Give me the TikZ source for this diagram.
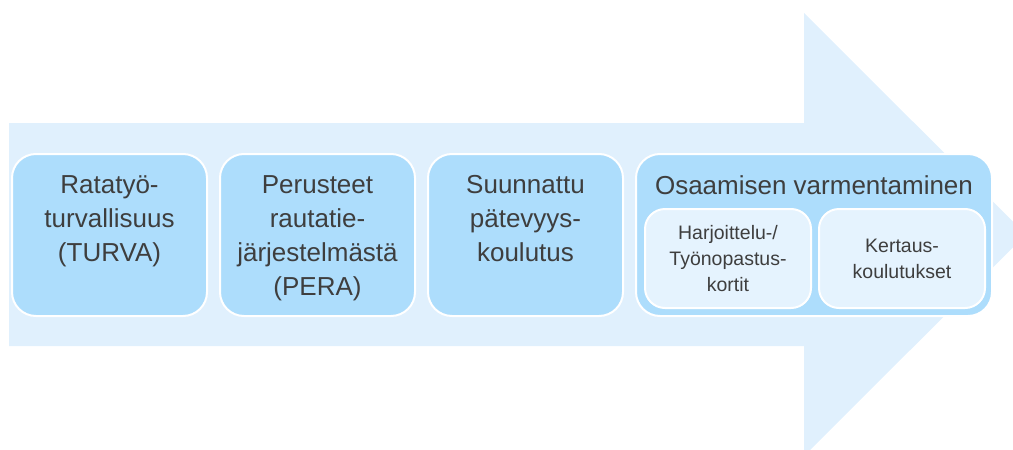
\documentclass[tikz,border=0pt]{standalone}
\usepackage{fontspec}
\setmainfont{Liberation Sans}
\usepackage{tikz}
\usetikzlibrary{positioning}

\definecolor{arrowblue}{RGB}{224,240,253}
\definecolor{boxblue}{RGB}{173,221,252}
\definecolor{innerblue}{RGB}{229,243,254}
\definecolor{textgray}{RGB}{62,62,62}

\tikzset{
  stage/.style     = {draw=white, line width=2pt, fill=boxblue, rounded corners=24pt,
                      minimum height=162pt, inner sep=0pt},
  stagetext/.style = {text=textgray, align=center, inner sep=0pt,
                      font=\fontsize{26}{34}\selectfont},
  substage/.style  = {draw=white, line width=2pt, fill=innerblue, rounded corners=20pt,
                      minimum width=166pt, minimum height=99pt, inner sep=0pt,
                      text=textgray, align=center, font=\fontsize{19.5}{26}\selectfont},
}

\begin{document}
\begin{tikzpicture}[x=1pt, y=-1pt]

\useasboundingbox (0,0) rectangle (1013,450);
\clip (0,0) rectangle (1013,450);

% big arrow in the background
\fill [arrowblue] (9,123) -- (804,123) -- (804,13) -- (1026,234.5)
                  -- (804,456) -- (804,346) -- (9,346) -- cycle;

\node [stage, minimum width=195pt    ] (turva) at (109.5,235) {};
\node [stage, minimum width=195pt, right=11pt of turva] (pera)  {};
\node [stage, minimum width=195pt, right=11pt of pera ] (koul)  {};
\node [stage, minimum width=356pt, right=11pt of koul ] (varm)  {};

\node [stagetext, below=22pt of turva.north] (tturva) {Ratatyö-\\turvallisuus\\(TURVA)};
\node [stagetext, below=22pt of pera.north ] (tpera)  {Perusteet\\rautatie-\\järjestelmästä\\(PERA)};
\node [stagetext, below=22pt of koul.north ] (tkoul)  {Suunnattu\\pätevyys-\\koulutus};
\node [stagetext, below=22pt of varm.north ] (tvarm)  {Osaamisen varmentaminen};

\node [substage, above right=8pt and 9pt of varm.south west] (kortit) {Harjoittelu-/\\Työnopastus-\\kortit};
\node [substage, right=6pt of kortit                       ] (kertaus) {Kertaus-\\koulutukset};

\end{tikzpicture}
\end{document}
